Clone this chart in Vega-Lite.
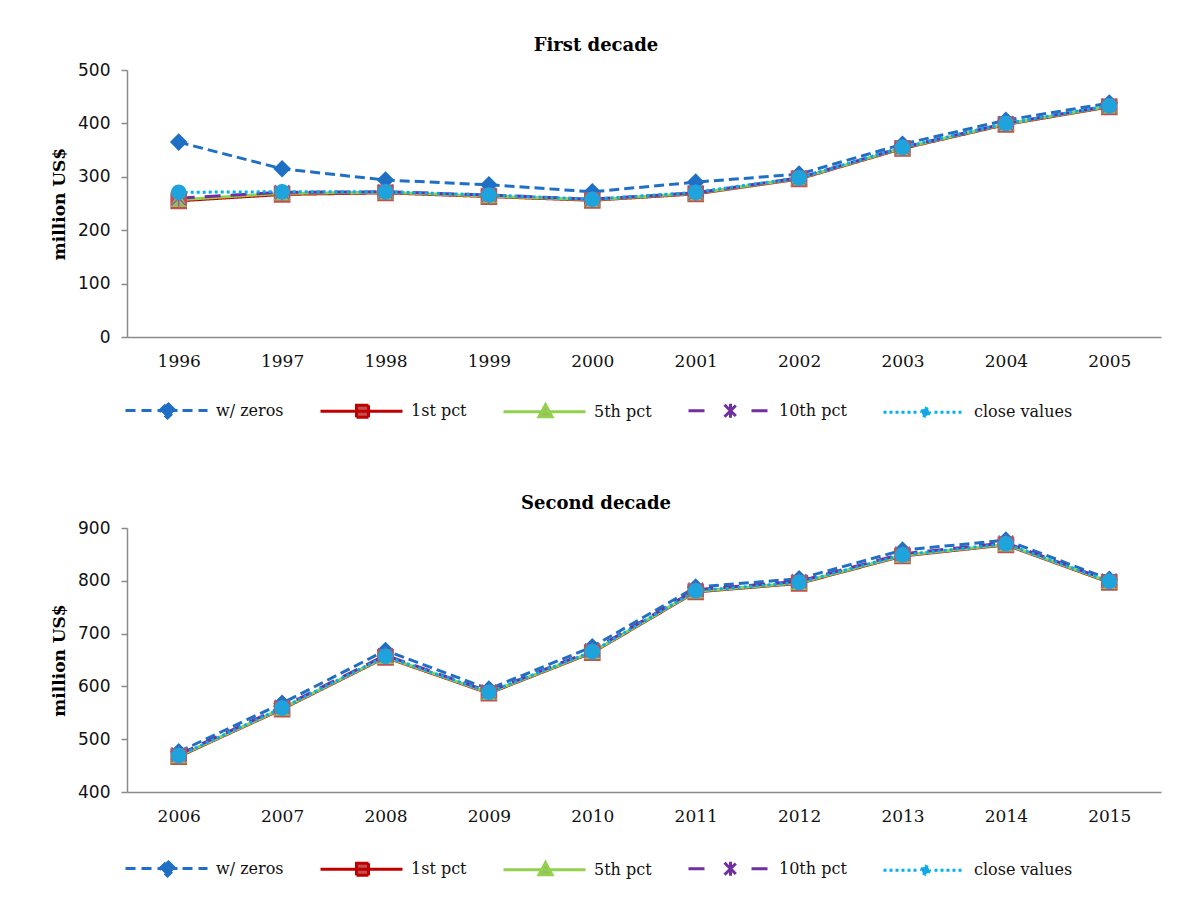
{
  "$schema": "https://vega.github.io/schema/vega-lite/v6.json",
  "background": "white",
  "padding": {"left": 50, "top": 37, "right": 10, "bottom": 10},
  "datasets": {
    "first": [
      {"year": "1996", "series": "w/ zeros", "value": 365},
      {"year": "1997", "series": "w/ zeros", "value": 315},
      {"year": "1998", "series": "w/ zeros", "value": 294},
      {"year": "1999", "series": "w/ zeros", "value": 285},
      {"year": "2000", "series": "w/ zeros", "value": 272},
      {"year": "2001", "series": "w/ zeros", "value": 290},
      {"year": "2002", "series": "w/ zeros", "value": 305},
      {"year": "2003", "series": "w/ zeros", "value": 361},
      {"year": "2004", "series": "w/ zeros", "value": 406},
      {"year": "2005", "series": "w/ zeros", "value": 438},
      {"year": "1996", "series": "1st pct", "value": 255},
      {"year": "1997", "series": "1st pct", "value": 267},
      {"year": "1998", "series": "1st pct", "value": 270},
      {"year": "1999", "series": "1st pct", "value": 263},
      {"year": "2000", "series": "1st pct", "value": 256},
      {"year": "2001", "series": "1st pct", "value": 268},
      {"year": "2002", "series": "1st pct", "value": 296},
      {"year": "2003", "series": "1st pct", "value": 353},
      {"year": "2004", "series": "1st pct", "value": 398},
      {"year": "2005", "series": "1st pct", "value": 431},
      {"year": "1996", "series": "5th pct", "value": 257},
      {"year": "1997", "series": "5th pct", "value": 269},
      {"year": "1998", "series": "5th pct", "value": 271},
      {"year": "1999", "series": "5th pct", "value": 264},
      {"year": "2000", "series": "5th pct", "value": 257},
      {"year": "2001", "series": "5th pct", "value": 269},
      {"year": "2002", "series": "5th pct", "value": 297},
      {"year": "2003", "series": "5th pct", "value": 354},
      {"year": "2004", "series": "5th pct", "value": 399},
      {"year": "2005", "series": "5th pct", "value": 432},
      {"year": "1996", "series": "10th pct", "value": 260},
      {"year": "1997", "series": "10th pct", "value": 271},
      {"year": "1998", "series": "10th pct", "value": 272},
      {"year": "1999", "series": "10th pct", "value": 266},
      {"year": "2000", "series": "10th pct", "value": 258},
      {"year": "2001", "series": "10th pct", "value": 270},
      {"year": "2002", "series": "10th pct", "value": 298},
      {"year": "2003", "series": "10th pct", "value": 355},
      {"year": "2004", "series": "10th pct", "value": 400},
      {"year": "2005", "series": "10th pct", "value": 433},
      {"year": "1996", "series": "close values", "value": 271},
      {"year": "1997", "series": "close values", "value": 272},
      {"year": "1998", "series": "close values", "value": 272},
      {"year": "1999", "series": "close values", "value": 266},
      {"year": "2000", "series": "close values", "value": 258},
      {"year": "2001", "series": "close values", "value": 271},
      {"year": "2002", "series": "close values", "value": 298},
      {"year": "2003", "series": "close values", "value": 355},
      {"year": "2004", "series": "close values", "value": 400},
      {"year": "2005", "series": "close values", "value": 433}
    ],
    "second": [
      {"year": "2006", "series": "w/ zeros", "value": 476},
      {"year": "2007", "series": "w/ zeros", "value": 568},
      {"year": "2008", "series": "w/ zeros", "value": 668},
      {"year": "2009", "series": "w/ zeros", "value": 595},
      {"year": "2010", "series": "w/ zeros", "value": 675},
      {"year": "2011", "series": "w/ zeros", "value": 788},
      {"year": "2012", "series": "w/ zeros", "value": 804},
      {"year": "2013", "series": "w/ zeros", "value": 858},
      {"year": "2014", "series": "w/ zeros", "value": 877},
      {"year": "2015", "series": "w/ zeros", "value": 803},
      {"year": "2006", "series": "1st pct", "value": 467},
      {"year": "2007", "series": "1st pct", "value": 557},
      {"year": "2008", "series": "1st pct", "value": 655},
      {"year": "2009", "series": "1st pct", "value": 587},
      {"year": "2010", "series": "1st pct", "value": 664},
      {"year": "2011", "series": "1st pct", "value": 779},
      {"year": "2012", "series": "1st pct", "value": 795},
      {"year": "2013", "series": "1st pct", "value": 847},
      {"year": "2014", "series": "1st pct", "value": 868},
      {"year": "2015", "series": "1st pct", "value": 797},
      {"year": "2006", "series": "5th pct", "value": 468},
      {"year": "2007", "series": "5th pct", "value": 558},
      {"year": "2008", "series": "5th pct", "value": 656},
      {"year": "2009", "series": "5th pct", "value": 588},
      {"year": "2010", "series": "5th pct", "value": 665},
      {"year": "2011", "series": "5th pct", "value": 780},
      {"year": "2012", "series": "5th pct", "value": 796},
      {"year": "2013", "series": "5th pct", "value": 848},
      {"year": "2014", "series": "5th pct", "value": 869},
      {"year": "2015", "series": "5th pct", "value": 798},
      {"year": "2006", "series": "10th pct", "value": 471},
      {"year": "2007", "series": "10th pct", "value": 561},
      {"year": "2008", "series": "10th pct", "value": 659},
      {"year": "2009", "series": "10th pct", "value": 590},
      {"year": "2010", "series": "10th pct", "value": 668},
      {"year": "2011", "series": "10th pct", "value": 783},
      {"year": "2012", "series": "10th pct", "value": 799},
      {"year": "2013", "series": "10th pct", "value": 851},
      {"year": "2014", "series": "10th pct", "value": 872},
      {"year": "2015", "series": "10th pct", "value": 800},
      {"year": "2006", "series": "close values", "value": 469},
      {"year": "2007", "series": "close values", "value": 559},
      {"year": "2008", "series": "close values", "value": 657},
      {"year": "2009", "series": "close values", "value": 589},
      {"year": "2010", "series": "close values", "value": 666},
      {"year": "2011", "series": "close values", "value": 781},
      {"year": "2012", "series": "close values", "value": 797},
      {"year": "2013", "series": "close values", "value": 849},
      {"year": "2014", "series": "close values", "value": 870},
      {"year": "2015", "series": "close values", "value": 799}
    ]
  },
  "spacing": 71,
  "resolve": {"scale": {"color": "independent", "strokeDash": "independent", "y": "independent", "x": "independent"}},
  "vconcat": [
    {
      "title": {"text": "First decade"},
      "width": 1034,
      "height": 267,
      "data": {"name": "first"},
      "layer": [
        {
          "mark": {"type": "line", "strokeWidth": 3},
          "encoding": {
            "x": {"field": "year", "type": "ordinal", "axis": {"title": null}},
            "y": {"field": "value", "type": "quantitative", "scale": {"domain": [0, 500], "nice": false, "zero": false},
              "axis": {"title": "million US$", "values": [0, 50, 100, 150, 200, 250, 300, 350, 400, 450, 500]}},
            "color": {"field": "series", "type": "nominal",
              "scale": {"domain": ["w/ zeros", "1st pct", "5th pct", "10th pct", "close values"], "range": ["#1F6FC5", "#C00000", "#92D050", "#7030A0", "#00B0F0"]},
              "legend": {"orient": "none", "legendX": -3, "legendY": 329,
                "encode": {
                  "symbols": {
                    "update": {
                      "shape": {"signal": "datum.value === 'w/ zeros' ? 'M-1,0H0.1M0.6,0H1.7M2.2,0H4.2M4.7,0H5.8M6.3,0H7.2M3.2,-0.75L3.95,0L3.2,0.75L2.45,0Z' : datum.value === '1st pct' ? 'M-1,0H7.2M2.6,-0.6H3.8V0.6H2.6Z' : datum.value === '5th pct' ? 'M-1,0H7.2M3.2,-0.7L3.85,0.5H2.55Z' : datum.value === '10th pct' ? 'M-1,0H0.9M5.3,0H7.2M2.6,-0.6L3.8,0.6M2.6,0.6L3.8,-0.6M3.2,-0.7V0.7' : 'M-1,0H-0.7M-0.4,0H-0.1M0.2,0H0.5M0.8,0H1.1M1.4,0H1.7M2.0,0H2.3M4.1,0H4.4M4.7,0H5.0M5.3,0H5.6M5.9,0H6.2M6.5,0H6.8M3.6,0L3.48,0.28L3.2,0.4L2.92,0.28L2.8,0L2.92,-0.28L3.2,-0.4L3.48,-0.28Z'"},
                      "fill": {"signal": "datum.value === 'w/ zeros' ? '#1F6FC5' : datum.value === '1st pct' ? '#C0504D' : datum.value === '5th pct' ? '#9BBB59' : datum.value === '10th pct' ? '#8064A2' : '#1FA3DD'"},
                      "stroke": {"signal": "datum.value === 'w/ zeros' ? '#1F6FC5' : datum.value === '1st pct' ? '#C00000' : datum.value === '5th pct' ? '#92D050' : datum.value === '10th pct' ? '#7030A0' : '#00B0F0'"},
                      "strokeDash": {"signal": "[1, 0]"},
                      "strokeWidth": {"value": 3},
                      "opacity": {"value": 1}
                    }
                  }
                }}},
            "strokeDash": {"field": "series", "type": "nominal",
              "scale": {"domain": ["w/ zeros", "1st pct", "5th pct", "10th pct", "close values"], "range": [[10, 5], [1, 0], [1, 0], [16, 10], [3, 3]]},
              "legend": null}
          }
        },
        {
          "mark": {"type": "point", "filled": true, "opacity": 1, "strokeWidth": 1.5},
          "encoding": {
            "x": {"field": "year", "type": "ordinal"},
            "y": {"field": "value", "type": "quantitative"},
            "shape": {"field": "series", "type": "nominal",
              "scale": {"domain": ["w/ zeros", "1st pct", "5th pct", "10th pct", "close values"], "range": ["diamond", "square", "triangle-up", "M-1,-1L1,1M-1,1L1,-1M0,-1.15V1.15", "circle"]}, "legend": null},
            "fill": {"field": "series", "type": "nominal",
              "scale": {"domain": ["w/ zeros", "1st pct", "5th pct", "10th pct", "close values"], "range": ["#1F6FC5", "#C0504D", "#9BBB59", "#8064A2", "#1FA3DD"]}, "legend": null},
            "stroke": {"field": "series", "type": "nominal",
              "scale": {"domain": ["w/ zeros", "1st pct", "5th pct", "10th pct", "close values"], "range": ["#1F6FC5", "#C0504D", "#9BBB59", "#8064A2", "#1FA3DD"]}, "legend": null},
            "size": {"field": "series", "type": "nominal",
              "scale": {"domain": ["w/ zeros", "1st pct", "5th pct", "10th pct", "close values"], "range": [240, 200, 210, 150, 100]}, "legend": null}
          }
        }
      ]
    },
    {
      "title": {"text": "Second decade"},
      "width": 1034,
      "height": 264,
      "data": {"name": "second"},
      "layer": [
        {
          "mark": {"type": "line", "strokeWidth": 3},
          "encoding": {
            "x": {"field": "year", "type": "ordinal", "axis": {"title": null}},
            "y": {"field": "value", "type": "quantitative", "scale": {"domain": [400, 900], "nice": false, "zero": false},
              "axis": {"title": "million US$", "values": [400, 450, 500, 550, 600, 650, 700, 750, 800, 850, 900]}},
            "color": {"field": "series", "type": "nominal",
              "scale": {"domain": ["w/ zeros", "1st pct", "5th pct", "10th pct", "close values"], "range": ["#1F6FC5", "#C00000", "#92D050", "#7030A0", "#00B0F0"]},
              "legend": {"orient": "none", "legendX": -3, "legendY": 329,
                "encode": {
                  "symbols": {
                    "update": {
                      "shape": {"signal": "datum.value === 'w/ zeros' ? 'M-1,0H0.1M0.6,0H1.7M2.2,0H4.2M4.7,0H5.8M6.3,0H7.2M3.2,-0.75L3.95,0L3.2,0.75L2.45,0Z' : datum.value === '1st pct' ? 'M-1,0H7.2M2.6,-0.6H3.8V0.6H2.6Z' : datum.value === '5th pct' ? 'M-1,0H7.2M3.2,-0.7L3.85,0.5H2.55Z' : datum.value === '10th pct' ? 'M-1,0H0.9M5.3,0H7.2M2.6,-0.6L3.8,0.6M2.6,0.6L3.8,-0.6M3.2,-0.7V0.7' : 'M-1,0H-0.7M-0.4,0H-0.1M0.2,0H0.5M0.8,0H1.1M1.4,0H1.7M2.0,0H2.3M4.1,0H4.4M4.7,0H5.0M5.3,0H5.6M5.9,0H6.2M6.5,0H6.8M3.6,0L3.48,0.28L3.2,0.4L2.92,0.28L2.8,0L2.92,-0.28L3.2,-0.4L3.48,-0.28Z'"},
                      "fill": {"signal": "datum.value === 'w/ zeros' ? '#1F6FC5' : datum.value === '1st pct' ? '#C0504D' : datum.value === '5th pct' ? '#9BBB59' : datum.value === '10th pct' ? '#8064A2' : '#1FA3DD'"},
                      "stroke": {"signal": "datum.value === 'w/ zeros' ? '#1F6FC5' : datum.value === '1st pct' ? '#C00000' : datum.value === '5th pct' ? '#92D050' : datum.value === '10th pct' ? '#7030A0' : '#00B0F0'"},
                      "strokeDash": {"signal": "[1, 0]"},
                      "strokeWidth": {"value": 3},
                      "opacity": {"value": 1}
                    }
                  }
                }}},
            "strokeDash": {"field": "series", "type": "nominal",
              "scale": {"domain": ["w/ zeros", "1st pct", "5th pct", "10th pct", "close values"], "range": [[10, 5], [1, 0], [1, 0], [16, 10], [3, 3]]},
              "legend": null}
          }
        },
        {
          "mark": {"type": "point", "filled": true, "opacity": 1, "strokeWidth": 1.5},
          "encoding": {
            "x": {"field": "year", "type": "ordinal"},
            "y": {"field": "value", "type": "quantitative"},
            "shape": {"field": "series", "type": "nominal",
              "scale": {"domain": ["w/ zeros", "1st pct", "5th pct", "10th pct", "close values"], "range": ["diamond", "square", "triangle-up", "M-1,-1L1,1M-1,1L1,-1M0,-1.15V1.15", "circle"]}, "legend": null},
            "fill": {"field": "series", "type": "nominal",
              "scale": {"domain": ["w/ zeros", "1st pct", "5th pct", "10th pct", "close values"], "range": ["#1F6FC5", "#C0504D", "#9BBB59", "#8064A2", "#1FA3DD"]}, "legend": null},
            "stroke": {"field": "series", "type": "nominal",
              "scale": {"domain": ["w/ zeros", "1st pct", "5th pct", "10th pct", "close values"], "range": ["#1F6FC5", "#C0504D", "#9BBB59", "#8064A2", "#1FA3DD"]}, "legend": null},
            "size": {"field": "series", "type": "nominal",
              "scale": {"domain": ["w/ zeros", "1st pct", "5th pct", "10th pct", "close values"], "range": [240, 200, 210, 150, 100]}, "legend": null}
          }
        }
      ]
    }
  ],
  "config": {
    "view": {"stroke": null},
    "title": {"font": "DejaVu Serif", "fontSize": 18, "fontWeight": "bold", "color": "#000000", "anchor": "middle", "offset": 6, "dx": -48},
    "axis": {
      "gridColor": "#8a8a8a", "gridWidth": 1.5, "gridOpacity": 1,
      "domainColor": "#8a8a8a", "domainWidth": 1.5,
      "tickColor": "#8a8a8a", "tickWidth": 1.5,
      "labelColor": "#111111", "titleColor": "#000000"
    },
    "axisX": {
      "labelAngle": 0, "ticks": false, "grid": false, "domain": true,
      "labelFont": "DejaVu Serif", "labelFontSize": 17, "labelPadding": 16
    },
    "axisY": {
      "labelFont": "DejaVu Sans", "labelFontSize": 17, "labelPadding": 11, "tickSize": 6,
      "titleFont": "DejaVu Serif", "titleFontSize": 17, "titleFontWeight": "bold", "titlePadding": 9,
      "labelExpr": "datum.value % 100 === 0 ? datum.label : ''",
      "gridOpacity": {"condition": {"test": "datum.value % 100 === 0", "value": 1}, "value": 0}
    },
    "legend": {
      "title": null, "direction": "horizontal", "columns": 5, "columnPadding": 30,
      "labelFont": "DejaVu Serif", "labelFontSize": 16, "labelColor": "#111111",
      "symbolSize": 400, "symbolStrokeWidth": 3, "labelOffset": 69, "padding": 0
    }
  }
}
